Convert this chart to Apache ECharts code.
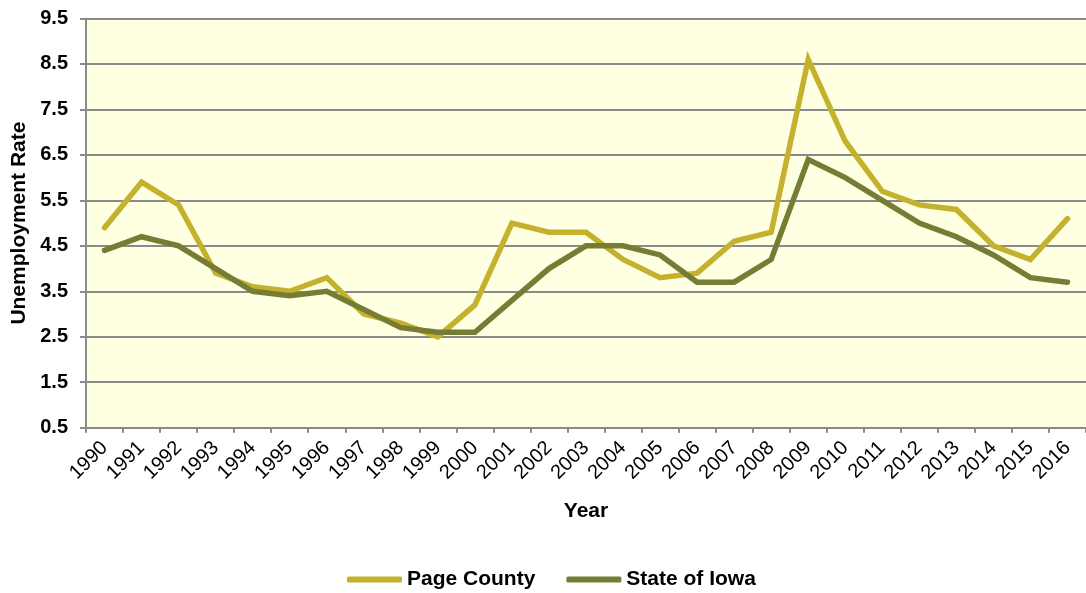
<!DOCTYPE html>
<html>
<head>
<meta charset="utf-8">
<script src="https://cdn.jsdelivr.net/npm/echarts@6/dist/echarts.min.js"></script>
<style>
  html, body { margin: 0; padding: 0; background: #ffffff; }
  #chart { width: 1086px; height: 593px; }
</style>
</head>
<body>
<div id="chart"></div>
<script>
// Annual unemployment rate, 1990-2016
const years = ['1990','1991','1992','1993','1994','1995','1996','1997','1998','1999',
  '2000','2001','2002','2003','2004','2005','2006','2007','2008','2009',
  '2010','2011','2012','2013','2014','2015','2016'];

const pageCounty = [4.9, 5.9, 5.4, 3.9, 3.6, 3.5, 3.8, 3.0, 2.8, 2.5,
  3.2, 5.0, 4.8, 4.8, 4.2, 3.8, 3.9, 4.6, 4.8, 8.6,
  6.8, 5.7, 5.4, 5.3, 4.5, 4.2, 5.1];

const stateOfIowa = [4.4, 4.7, 4.5, 4.0, 3.5, 3.4, 3.5, 3.1, 2.7, 2.6,
  2.6, 3.3, 4.0, 4.5, 4.5, 4.3, 3.7, 3.7, 4.2, 6.4,
  6.0, 5.5, 5.0, 4.7, 4.3, 3.8, 3.7];

const seriesNames = ['Page County', 'State of Iowa'];
const yTicks = ['0.5','1.5','2.5','3.5','4.5','5.5','6.5','7.5','8.5','9.5'];

const FONT = '"Liberation Sans", Arial, sans-serif';
const GRID_GRAY = '#8a8a8a';
const PAGE_COLOR = '#C4B22E';
const IOWA_COLOR = '#767C34';

const chart = echarts.init(document.getElementById('chart'), null, { renderer: 'canvas' });

chart.setOption({
  animation: false,
  backgroundColor: '#ffffff',
  grid: {
    left: 86, top: 18.5, width: 1008, height: 409.2,
    show: true, backgroundColor: '#FFFFE1', borderWidth: 0,
    containLabel: false
  },
  legend: {
    data: seriesNames.map(function (n) { return { name: n, icon: 'roundRect' }; }),
    left: 342, top: 564,
    itemWidth: 55, itemHeight: 6, itemGap: 31,
    textStyle: { fontFamily: FONT, fontSize: 21, fontWeight: 'bold', color: '#000' }
  },
  xAxis: {
    type: 'category',
    data: years,
    boundaryGap: true,
    name: 'Year',
    nameLocation: 'middle',
    nameGap: 73,
    nameTextStyle: { fontFamily: FONT, fontSize: 21, fontWeight: 'bold', color: '#000' },
    axisLine: { show: true, lineStyle: { color: GRID_GRAY, width: 2 } },
    axisTick: { show: true, length: 5, lineStyle: { color: GRID_GRAY, width: 2 } },
    axisLabel: {
      interval: 0, rotate: 45, margin: 17,
      fontFamily: FONT, fontSize: 20, color: '#000'
    },
    splitLine: { show: false }
  },
  yAxis: {
    type: 'value',
    min: parseFloat(yTicks[0]),
    max: parseFloat(yTicks[yTicks.length - 1]),
    interval: 1,
    name: 'Unemployment Rate',
    nameLocation: 'middle',
    nameGap: 56,
    nameTextStyle: { fontFamily: FONT, fontSize: 21, fontWeight: 'bold', color: '#000' },
    axisLine: { show: true, lineStyle: { color: GRID_GRAY, width: 2 } },
    axisTick: { show: true, length: 6, lineStyle: { color: GRID_GRAY, width: 2 } },
    axisLabel: {
      margin: 18,
      fontFamily: FONT, fontSize: 20, fontWeight: 'bold', color: '#000',
      formatter: function (v) {
        const i = Math.round(v - parseFloat(yTicks[0]));
        return yTicks[i] !== undefined ? yTicks[i] : v.toFixed(1);
      }
    },
    splitLine: { show: true, lineStyle: { color: GRID_GRAY, width: 2 } }
  },
  series: [
    {
      name: seriesNames[0],
      type: 'line',
      data: pageCounty,
      symbol: 'none',
      color: PAGE_COLOR,
      itemStyle: { color: PAGE_COLOR },
      lineStyle: { width: 5.5, color: PAGE_COLOR, cap: 'round', join: 'miter' }
    },
    {
      name: seriesNames[1],
      type: 'line',
      data: stateOfIowa,
      symbol: 'none',
      color: IOWA_COLOR,
      itemStyle: { color: IOWA_COLOR },
      lineStyle: { width: 5.5, color: IOWA_COLOR, cap: 'round', join: 'miter' }
    }
  ]
});
</script>
</body>
</html>
